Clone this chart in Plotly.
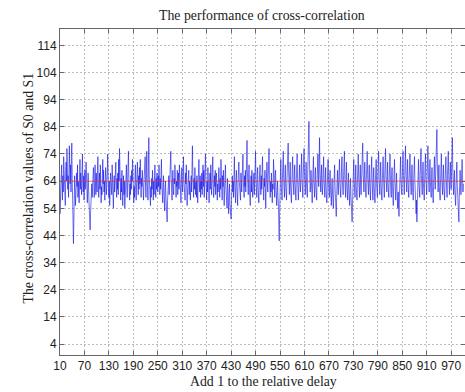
import plotly.graph_objects as go

title_text = "The performance of cross-correlation"
x_title = "Add 1 to the relative delay"
y_title = "The cross-correlation values of S0 and S1"

x_ticks = [10, 70, 130, 190, 250, 310, 370, 430, 490, 550, 610, 670, 730, 790, 850, 910, 970]
y_ticks = [4, 14, 24, 34, 44, 54, 64, 74, 84, 94, 104, 114]
mean_level = 64

values = [
62,57,65,60,54,63,68,59,66,52,58,64,61,70,63,57,66,60,73,65,58,62,55,67,71,64,76,69,61,66,58,72,77,68,63,70,60,74,78,65,57,50,41,49,58,66,61,55,63,59,
67,62,70,58,64,60,56,65,72,61,67,63,59,69,74,64,60,66,57,62,68,61,65,71,59,63,56,61,67,62,57,53,49,46,52,60,55,63,58,66,61,69,64,58,62,70,65,59,67,63,
60,68,73,64,58,63,67,61,70,65,56,62,59,66,72,63,68,60,64,57,61,69,65,59,63,67,74,66,61,58,64,55,60,67,62,65,59,70,63,57,54,61,66,60,68,64,71,62,58,65,
61,67,59,72,64,76,66,62,57,65,60,68,63,55,61,66,59,64,54,60,67,63,70,61,58,64,69,75,65,62,57,63,59,66,61,68,64,72,67,60,56,62,58,65,70,61,57,63,67,71,
64,59,66,61,69,63,72,60,58,65,62,68,59,64,57,63,70,66,73,62,58,67,75,64,61,57,69,80,66,60,63,55,62,58,65,61,68,63,57,64,59,66,70,62,58,65,61,67,63,60,
66,62,70,64,59,65,61,67,72,63,58,56,62,66,60,57,53,61,64,58,55,52,49,57,63,60,66,59,64,61,71,75,65,62,57,64,68,61,59,65,63,70,67,60,58,64,62,68,59,63,
67,61,70,64,58,62,56,65,69,63,60,66,73,64,59,62,57,67,63,70,61,55,60,65,62,68,59,64,61,57,63,66,60,72,77,67,62,58,65,61,69,63,59,64,58,66,61,56,63,67,
72,63,60,66,58,64,61,67,59,65,70,62,68,58,63,66,74,65,61,57,64,60,69,63,58,56,62,67,61,70,64,59,65,61,73,63,58,60,66,62,68,59,64,67,61,57,63,60,65,69,
63,58,65,61,72,64,60,57,66,62,68,59,55,61,64,70,62,57,60,54,65,61,58,52,59,63,56,54,51,50,57,61,66,60,64,58,69,73,63,60,56,65,68,62,59,55,63,66,71,64,
59,62,57,67,63,60,65,71,74,64,61,58,66,62,68,60,66,72,79,67,62,59,65,70,61,57,55,63,66,60,68,62,58,64,61,67,59,65,71,75,64,61,58,66,69,62,57,56,63,65,
70,62,59,66,61,67,73,64,60,57,65,62,68,58,54,62,66,71,63,60,65,69,76,66,61,58,64,60,67,57,56,63,61,72,65,60,58,66,68,62,59,55,61,64,58,56,49,42,52,60,
66,72,63,60,57,65,69,75,64,61,58,66,70,62,59,57,64,67,74,78,68,63,59,66,71,62,58,56,63,67,73,65,61,59,66,70,63,60,57,64,69,74,65,61,57,62,67,70,63,60,
64,69,74,65,61,58,66,70,76,67,62,59,65,71,63,60,58,67,73,78,86,72,64,60,62,68,63,58,56,63,67,73,64,60,58,66,69,62,59,57,64,67,74,66,62,71,80,68,63,60,
66,70,62,59,63,67,73,64,60,58,65,69,61,58,56,62,66,72,64,60,58,65,68,61,57,55,62,65,59,57,54,61,64,70,62,59,55,51,58,63,68,62,59,64,67,72,63,60,58,64,
69,73,64,61,59,66,70,75,65,62,58,66,71,63,60,57,64,67,61,57,55,62,65,59,56,52,49,56,62,67,72,64,60,58,66,70,62,59,57,64,69,74,65,61,58,65,70,62,59,64,
68,73,78,67,62,60,66,71,64,61,58,65,69,75,66,62,59,65,70,63,60,57,64,68,73,64,60,57,65,69,62,58,56,63,67,72,63,59,58,66,70,75,65,62,59,66,71,63,60,57,
63,67,73,65,61,58,66,70,76,66,62,60,66,71,63,60,58,65,69,74,64,61,58,66,69,62,59,55,63,66,72,64,60,57,63,67,61,58,54,60,53,51,58,63,68,73,64,61,59,65,
70,75,66,62,59,66,71,77,67,63,60,67,72,64,61,58,65,69,74,65,62,59,66,70,62,59,57,64,68,73,64,60,57,52,57,49,56,62,67,72,63,60,58,66,70,76,66,62,59,66,
71,63,60,57,65,69,74,65,61,59,66,70,77,67,62,60,67,72,64,61,58,65,69,62,59,56,63,68,73,64,61,67,72,76,83,71,64,60,65,70,62,59,57,64,68,74,65,61,59,66,
70,62,59,57,64,68,73,65,61,58,66,70,75,66,62,59,66,71,64,61,67,73,80,68,63,59,64,68,61,57,55,62,66,71,63,60,56,52,49,58,63,68,62,59,63,67,72,64,60,63,
]
delays = list(range(1, len(values) + 1))

fig = go.Figure()
fig.add_trace(go.Scatter(
    x=delays, y=values, mode="lines",
    line=dict(color="#1010e8", width=0.6),
    showlegend=False, hoverinfo="skip",
))
fig.add_trace(go.Scatter(
    x=[delays[0], delays[-1] + 10], y=[mean_level, mean_level], mode="lines",
    line=dict(color="#e04040", width=0.7),
    showlegend=False, hoverinfo="skip",
))

axis_common = dict(
    showgrid=True, gridcolor="#bdbdbd", griddash="2px,2px", gridwidth=1,
    showline=True, linecolor="#666666", linewidth=1, mirror="ticks",
    ticks="inside", ticklen=4, tickcolor="#666666",
    tickfont=dict(family="Liberation Sans, Arial, sans-serif", size=12, color="#222222"),
    zeroline=False,
)

fig.update_xaxes(range=[10, 1004], tickmode="array", tickvals=x_ticks,
                 ticktext=[str(t) for t in x_ticks], **axis_common)
fig.update_yaxes(range=[0, 120], tickmode="array", tickvals=y_ticks,
                 ticktext=[str(t) for t in y_ticks], **axis_common)

serif = dict(family="Liberation Serif, Times New Roman, serif", size=13.8, color="#222222")

ph = 392 - 29 - 37
pw = 465 - 60
fig.update_layout(
    width=465, height=392,
    margin=dict(l=60, r=0, t=29, b=37, autoexpand=False),
    paper_bgcolor="white", plot_bgcolor="white",
    annotations=[
        dict(text=title_text, xref="paper", yref="paper", x=(262 - 60) / pw, y=1 + (29 - 15) / ph,
             yanchor="middle", showarrow=False, font=serif),
        dict(text=x_title, xref="paper", yref="paper", x=(263 - 60) / pw, y=-(381 - 355) / ph,
             yanchor="middle", showarrow=False, font=serif),
        dict(text=y_title, xref="paper", yref="paper", x=(18 - 60) / pw, y=(355 - 188) / ph,
             textangle=-90, showarrow=False, font=serif),
    ],
)

fig.write_html("out.html", config={"displayModeBar": False},
               post_script="document.body.style.margin='0';document.body.style.padding='0';document.body.style.overflow='hidden';")
